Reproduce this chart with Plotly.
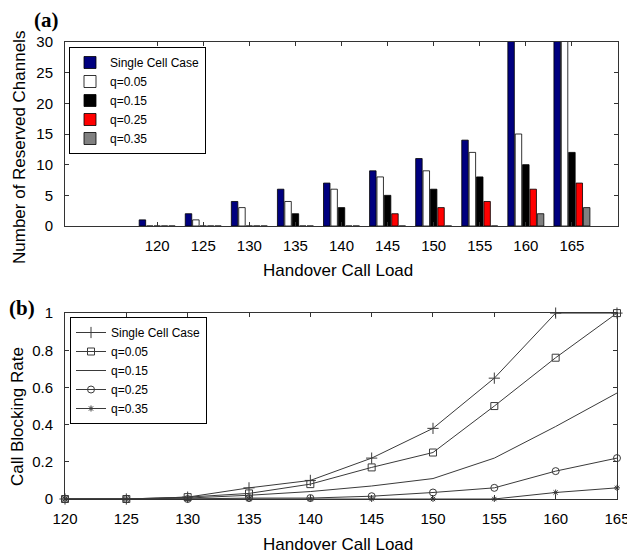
import plotly.graph_objects as go

# ---------- data ----------
loads = [120, 125, 130, 135, 140, 145, 150, 155, 160, 165]

# (a) Number of reserved channels (values above 30 are clipped in the reference)
res_single = [1, 2, 4, 6, 7, 9, 11, 14, 32, 32]
res_q005 = [0, 1, 3, 4, 6, 8, 9, 12, 15, 32]
res_q015 = [0, 0, 0, 2, 3, 5, 6, 8, 10, 12]
res_q025 = [0, 0, 0, 0, 0, 2, 3, 4, 6, 7]
res_q035 = [0, 0, 0, 0, 0, 0, 0, 0, 2, 3]

# (b) Call blocking rate
cb_single = [0, 0, 0.01, 0.06, 0.10, 0.22, 0.38, 0.65, 1.0, 1.0]
cb_q005 = [0, 0, 0.01, 0.03, 0.08, 0.17, 0.25, 0.50, 0.76, 1.0]
cb_q015 = [0, 0, 0.005, 0.02, 0.04, 0.07, 0.11, 0.22, 0.39, 0.57]
cb_q025 = [0, 0, 0, 0.005, 0.005, 0.015, 0.035, 0.06, 0.15, 0.22]
cb_q035 = [0, 0, 0, 0, 0, 0, 0, 0, 0.035, 0.06]

series_names = ["Single Cell Case", "q=0.05", "q=0.15", "q=0.25", "q=0.35"]
bar_colors = ["#00007f", "#ffffff", "#000000", "#ff0000", "#808080"]
line_symbols = ["cross-thin-open", "square-open", None, "circle-open", "asterisk-open"]
line_sizes = [8, 7, 0, 7, 5]

x_ticks = [120, 125, 130, 135, 140, 145, 150, 155, 160, 165]
ya_ticks = [0, 5, 10, 15, 20, 25, 30]
yb_ticks = [0, 0.2, 0.4, 0.6, 0.8, 1]
yb_ticktext = ["0", "0.2", "0.4", "0.6", "0.8", "1"]

# ---------- figure ----------
W, H = 627, 553
FONT = "Liberation Sans, Arial, sans-serif"
AX = "#333333"
LC = "#3a3a3a"

fig = go.Figure()

for name, vals, col in zip(series_names,
                           [res_single, res_q005, res_q015, res_q025, res_q035],
                           bar_colors):
    fig.add_trace(go.Bar(
        x=loads, y=vals, name=name, xaxis="x", yaxis="y",
        marker=dict(color=col, line=dict(color="black", width=0.8)),
        legend="legend",
    ))

for name, vals, sym, sz in zip(series_names,
                               [cb_single, cb_q005, cb_q015, cb_q025, cb_q035],
                               line_symbols, line_sizes):
    mode = "lines+markers" if sym else "lines"
    tr = go.Scatter(
        x=loads, y=vals, name=name, xaxis="x2", yaxis="y2", mode=mode,
        line=dict(color=LC, width=1),
        legend="legend2", cliponaxis=False,
    )
    if sym:
        tr.marker = dict(symbol=sym, size=sz, color=LC,
                         line=dict(color=LC, width=1))
    fig.add_trace(tr)

def px_x(p):
    return p / W

def px_y(p):
    return 1 - p / H

axis_common = dict(
    showline=True, linecolor=AX, linewidth=1, mirror="ticks",
    ticks="inside", ticklen=4, tickcolor=AX, showgrid=False, zeroline=False,
    automargin=False, ticklabeloverflow="allow",
    tickfont=dict(family=FONT, size=15, color="black"),
)

fig.update_layout(
    width=W, height=H,
    margin=dict(l=0, r=0, t=0, b=0, autoexpand=False),
    paper_bgcolor="white", plot_bgcolor="white",
    barmode="group", bargap=0.2, bargroupgap=0.12,
    font=dict(family=FONT, color="black"),
    xaxis=dict(domain=[px_x(65), px_x(618)], range=[110, 170], anchor="y",
               tickvals=x_ticks, ticklabelstandoff=6, **axis_common),
    yaxis=dict(domain=[px_y(226), px_y(42)], range=[0, 30], anchor="x",
               tickvals=ya_ticks, ticklabelstandoff=8, **axis_common),
    xaxis2=dict(domain=[px_x(65), px_x(617)], range=[120, 165.001], anchor="y2",
                tickvals=x_ticks, ticklabelstandoff=6, **axis_common),
    yaxis2=dict(domain=[px_y(499), px_y(313)], range=[0, 1.0005], anchor="x2",
                tickvals=yb_ticks, ticktext=yb_ticktext, ticklabelstandoff=8,
                **axis_common),
    legend=dict(x=px_x(69), y=px_y(47), xanchor="left", yanchor="top",
                bgcolor="white", bordercolor="black", borderwidth=1,
                font=dict(family=FONT, size=12, color="black"),
                tracegroupgap=0, itemwidth=30),
    legend2=dict(x=px_x(70), y=px_y(317), xanchor="left", yanchor="top",
                 bgcolor="white", bordercolor="black", borderwidth=1,
                 font=dict(family=FONT, size=12, color="black"),
                 tracegroupgap=0, itemwidth=30),
    showlegend=True,
)

annots = [
    dict(text="<b>(a)</b>", x=px_x(46), y=px_y(20),
         font=dict(family="Liberation Serif, Times New Roman, serif", size=21)),
    dict(text="<b>(b)</b>", x=px_x(22), y=px_y(308),
         font=dict(family="Liberation Serif, Times New Roman, serif", size=21)),
    dict(text="Number of Reserved Channels", x=px_x(19), y=px_y(148), textangle=-90,
         font=dict(family=FONT, size=17)),
    dict(text="Handover Call Load", x=px_x(338), y=px_y(270),
         font=dict(family=FONT, size=17)),
    dict(text="Call Blocking Rate", x=px_x(17), y=px_y(417), textangle=-90,
         font=dict(family=FONT, size=17)),
    dict(text="Handover Call Load", x=px_x(338), y=px_y(544),
         font=dict(family=FONT, size=17)),
]
for a in annots:
    a.update(xref="paper", yref="paper", showarrow=False,
             xanchor="center", yanchor="middle")
fig.update_layout(annotations=annots)

fig.write_html(
    "out.html",
    config={"displayModeBar": False},
    post_script="document.body.style.margin='0';document.body.style.overflow='hidden';",
)
